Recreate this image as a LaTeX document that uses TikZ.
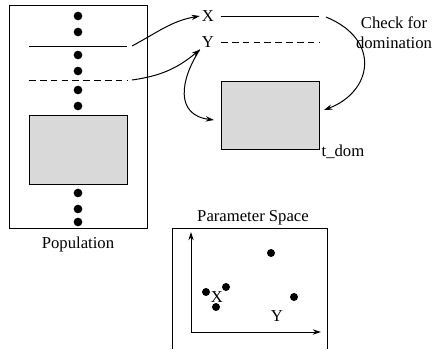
\documentclass[tikz,border=0pt]{standalone}
\usepackage{fontspec}
\setmainfont{Liberation Serif}
\usetikzlibrary{arrows.meta}

\begin{document}
\begin{tikzpicture}[x=0.6pt,y=-0.6pt,line width=0.6pt,
		ind/.style={circle,fill,inner sep=0pt,minimum size=4.8pt},
		arr/.style={-{Stealth[length=5pt,width=3.2pt]}}]
		\useasboundingbox (0,0) rectangle (446,349);
		% the population and its members
		\draw (9,5) rectangle (147,228);
		\foreach \y [count=\i] in {16,32,55,71,90,106,193,209,222}
			\node [ind,minimum size=5.2pt] (p\i) at (78,\y) {};
		\draw (29,46) -- (127,46);
		\draw [dashed,dash pattern=on 4pt off 2.5pt] (29,80) -- (127,80);
		\draw [fill=black!15] (29,115) rectangle (127,184);
		\node (pop) at (78,244) {Population};
		\coordinate (xs) at (132,46);
		\coordinate (ys) at (132,80);
		% the pair taken out
		\node [inner sep=1pt] (x) at (208,16) {X};
		\node [inner sep=1pt] (y) at (208,42) {Y};
		\draw (221,16) -- (319,16) coordinate (xe);
		\draw [dashed,dash pattern=on 4pt off 2.5pt] (221,42) -- (319,42);
		\node [draw,fill=black!15,inner sep=0pt,minimum width=58.8pt,minimum height=40.8pt] (tdom) at (270,115) {};
		\node [anchor=west,inner sep=1pt] (tlab) at ([yshift=-1.5pt]tdom.south east) {t\_dom};
		\node [align=center] (chk) at (394,33) {Check for\\domination};
		\draw [arr] (xs) to[out=28,in=190] (x.west);
		\draw [arr] (ys) to[out=8,in=220] (y.south west);
		\draw [arr] (326,17) .. controls (382,40) and (372,92) .. (324,110);
		\draw [arr] (y.south west) .. controls (180,80) and (175,115) .. (214,120);
		% parameter space
		\node (ps) at (253,218) {Parameter Space};
		\draw (172,349) -- (172,228) -- (327,228) -- (327,349);
		\coordinate (o) at (191,332);
		\draw [arr] (o) -- (191,232);
		\draw [arr] (o) -- (321,332);
		\node [ind] (q1) at (206,292) {};
		\node [ind] (q2) at (226,287) {};
		\node [ind] (q3) at (216,307) {};
		\node [ind] (q4) at (271,253) {};
		\node [ind] (q5) at (294,297) {};
		\node [inner sep=0pt] (px) at (217,297) {X};
		\node [inner sep=0pt] (py) at (277,316) {Y};
\end{tikzpicture}
\end{document}
